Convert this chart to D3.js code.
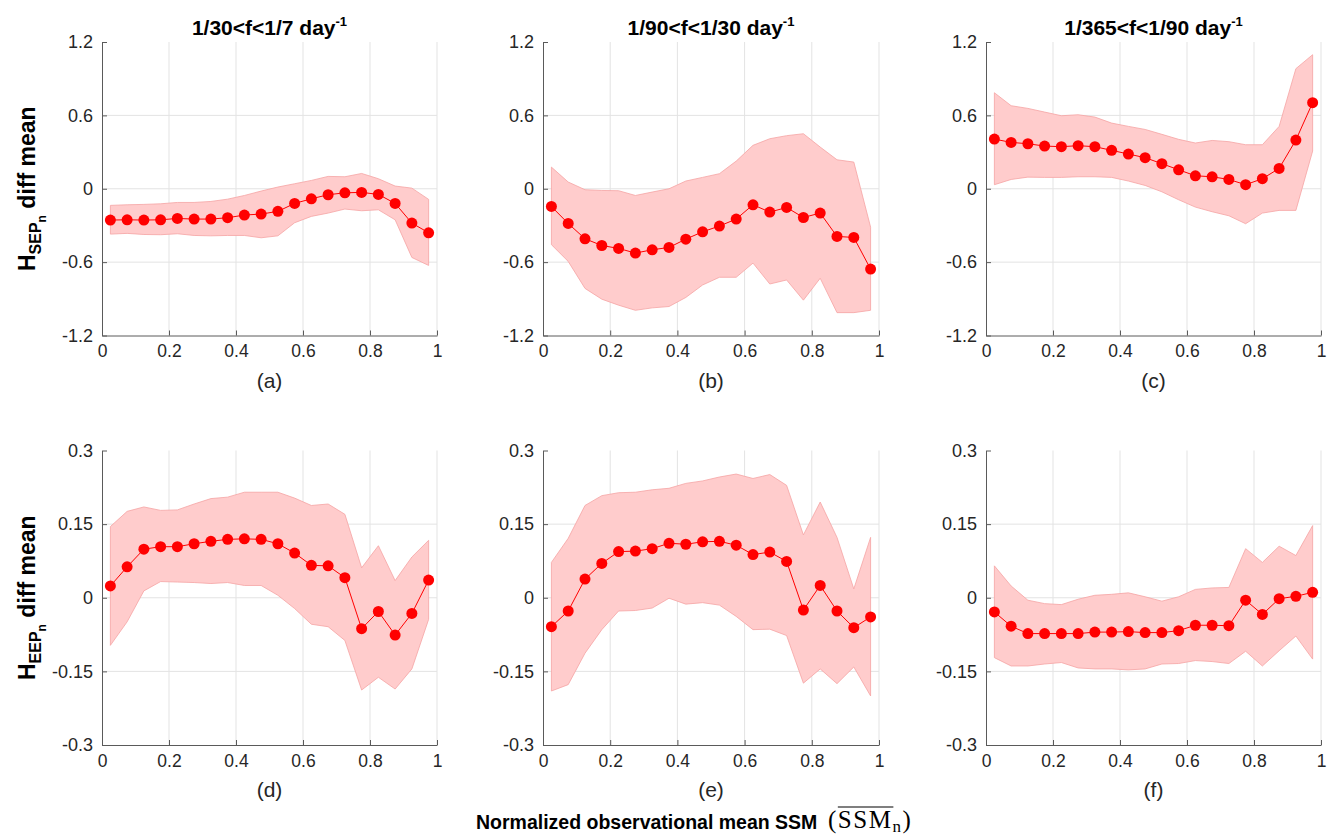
<!DOCTYPE html>
<html>
<head>
<meta charset="utf-8">
<script src="https://cdn.jsdelivr.net/npm/d3@7"></script>
<style>
  body { margin: 0; background: #fff; }
  text { font-family: Arial, "Liberation Sans", Helvetica, sans-serif; }
</style>
</head>
<body>
<div id="chart"></div>
<script>
var width = 1331, height = 838;

// bin centres of normalized SSM
var ssmBins = [0.025, 0.075, 0.125, 0.175, 0.225, 0.275, 0.325, 0.375, 0.425, 0.475,
               0.525, 0.575, 0.625, 0.675, 0.725, 0.775, 0.825, 0.875, 0.925, 0.975];

var titles = ["1/30<f<1/7 day", "1/90<f<1/30 day", "1/365<f<1/90 day"];
var panelLetters = ["(a)", "(b)", "(c)", "(d)", "(e)", "(f)"];
var xTicks = [0, 0.2, 0.4, 0.6, 0.8, 1];
var sepTicks = [-1.2, -0.6, 0, 0.6, 1.2];
var eepTicks = [-0.3, -0.15, 0, 0.15, 0.3];

// H_SEP diff mean (top row)
var sepMeanA = [-0.256, -0.254, -0.256, -0.254, -0.243, -0.248, -0.248, -0.237, -0.215, -0.207,
                -0.185, -0.12, -0.082, -0.049, -0.033, -0.03, -0.046, -0.12, -0.281, -0.36];
var sepUpA = [-0.136, -0.131, -0.128, -0.123, -0.112, -0.112, -0.104, -0.085, -0.055, -0.019,
              0.014, 0.041, 0.068, 0.101, 0.098, 0.125, 0.082, 0.022, 0.005, -0.087];
var sepLoA = [-0.371, -0.365, -0.374, -0.376, -0.368, -0.382, -0.385, -0.382, -0.382, -0.401,
              -0.385, -0.278, -0.226, -0.199, -0.166, -0.18, -0.172, -0.254, -0.562, -0.627];

var sepMeanB = [-0.145, -0.284, -0.409, -0.464, -0.488, -0.526, -0.499, -0.48, -0.412, -0.352,
                -0.305, -0.248, -0.131, -0.191, -0.153, -0.235, -0.199, -0.39, -0.398, -0.657];
var sepUpB = [0.177, 0.055, -0.008, -0.014, -0.016, -0.055, -0.027, 0, 0.063, 0.093,
              0.123, 0.226, 0.355, 0.409, 0.434, 0.45, 0.341, 0.237, 0.218, -0.314];
var sepLoB = [-0.457, -0.594, -0.815, -0.903, -0.952, -0.994, -0.974, -0.963, -0.889, -0.787,
              -0.724, -0.724, -0.608, -0.779, -0.746, -0.911, -0.732, -1.013, -1.013, -0.994];

var sepMeanC = [0.406, 0.379, 0.368, 0.349, 0.344, 0.352, 0.344, 0.314, 0.284, 0.254,
                0.205, 0.155, 0.106, 0.098, 0.076, 0.033, 0.082, 0.166, 0.398, 0.704];
var sepUpC = [0.785, 0.679, 0.657, 0.627, 0.597, 0.605, 0.586, 0.537, 0.51, 0.485,
              0.445, 0.404, 0.374, 0.395, 0.385, 0.36, 0.36, 0.51, 0.982, 1.096];
var sepLoC = [0.033, 0.076, 0.095, 0.093, 0.093, 0.098, 0.098, 0.093, 0.063, 0.027,
              -0.025, -0.09, -0.15, -0.188, -0.221, -0.286, -0.199, -0.177, -0.177, 0.308];

// H_EEP diff mean (bottom row)
var eepMeanD = [0.024, 0.063, 0.099, 0.104, 0.104, 0.11, 0.115, 0.119, 0.12, 0.119,
                0.11, 0.091, 0.066, 0.065, 0.041, -0.063, -0.028, -0.076, -0.032, 0.036];
var eepUpD = [0.145, 0.176, 0.185, 0.178, 0.179, 0.191, 0.202, 0.205, 0.215, 0.215,
              0.215, 0.203, 0.188, 0.191, 0.17, 0.061, 0.106, 0.035, 0.083, 0.117];
var eepLoD = [-0.097, -0.049, 0.014, 0.033, 0.032, 0.031, 0.029, 0.031, 0.025, 0.025,
              0.005, -0.022, -0.054, -0.059, -0.087, -0.188, -0.162, -0.186, -0.145, -0.044];

var eepMeanE = [-0.059, -0.027, 0.038, 0.07, 0.094, 0.095, 0.1, 0.111, 0.109, 0.114,
                0.115, 0.107, 0.088, 0.093, 0.074, -0.025, 0.025, -0.027, -0.061, -0.039];
var eepUpE = [0.072, 0.121, 0.188, 0.208, 0.214, 0.215, 0.22, 0.223, 0.233, 0.238,
              0.246, 0.252, 0.243, 0.251, 0.229, 0.128, 0.195, 0.123, 0.018, 0.123];
var eepLoE = [-0.19, -0.177, -0.113, -0.065, -0.027, -0.026, -0.021, -0.001, -0.013, -0.01,
              -0.015, -0.038, -0.065, -0.064, -0.077, -0.174, -0.145, -0.175, -0.141, -0.2];

var eepMeanF = [-0.029, -0.058, -0.073, -0.073, -0.073, -0.073, -0.07, -0.07, -0.069, -0.071,
                -0.071, -0.067, -0.056, -0.056, -0.057, -0.005, -0.034, -0.002, 0.003, 0.011];
var eepUpF = [0.065, 0.024, -0.005, -0.012, -0.014, -0.003, 0.005, 0.007, 0.01, 0.002,
              -0.007, 0.002, 0.017, 0.02, 0.021, 0.1, 0.072, 0.105, 0.086, 0.147];
var eepLoF = [-0.122, -0.139, -0.139, -0.135, -0.132, -0.143, -0.145, -0.145, -0.147, -0.145,
              -0.135, -0.134, -0.128, -0.13, -0.134, -0.109, -0.139, -0.108, -0.078, -0.125];

var colX = [[102, 437], [543, 879], [986, 1321]];
var rowY = [[42, 335.5], [450.5, 745]];

var panels = [
  {row: 0, col: 0, mean: sepMeanA, up: sepUpA, lo: sepLoA},
  {row: 0, col: 1, mean: sepMeanB, up: sepUpB, lo: sepLoB},
  {row: 0, col: 2, mean: sepMeanC, up: sepUpC, lo: sepLoC},
  {row: 1, col: 0, mean: eepMeanD, up: eepUpD, lo: eepLoD},
  {row: 1, col: 1, mean: eepMeanE, up: eepUpE, lo: eepLoE},
  {row: 1, col: 2, mean: eepMeanF, up: eepUpF, lo: eepLoF}
];

var svg = d3.select("#chart").append("svg")
  .attr("width", width)
  .attr("height", height);

var axisColor = "#5a5a5a", textColor = "#262626";

panels.forEach(function(p, i) {
  var ticks = p.row == 0 ? sepTicks : eepTicks;
  var x = d3.scaleLinear().domain([0, 1]).range(colX[p.col]);
  var y = d3.scaleLinear().domain([ticks[0], ticks[ticks.length - 1]]).range([rowY[p.row][1], rowY[p.row][0]]);
  var g = svg.append("g");

  // grid
  g.selectAll("line.vg").data(xTicks.slice(1)).enter().append("line")
    .attr("x1", d => x(d)).attr("x2", d => x(d))
    .attr("y1", y.range()[0]).attr("y2", y.range()[1])
    .attr("stroke", "#e3e3e3").attr("stroke-width", 1);
  g.selectAll("line.hg").data(ticks.slice(1, -1)).enter().append("line")
    .attr("x1", x(0)).attr("x2", x(1))
    .attr("y1", d => y(d)).attr("y2", d => y(d))
    .attr("stroke", "#e3e3e3").attr("stroke-width", 1);

  // spread band
  var area = d3.area()
    .x((d, k) => x(ssmBins[k]))
    .y0((d, k) => y(p.lo[k]))
    .y1((d, k) => y(p.up[k]));
  g.append("path").datum(p.mean)
    .attr("d", area)
    .attr("fill", "#ffcccc")
    .attr("stroke", "#f5a3a3")
    .attr("stroke-width", 0.8);

  // axes (ticks inward)
  var xAxis = d3.axisBottom(x).tickValues(xTicks).tickSizeInner(-5).tickSizeOuter(0)
    .tickFormat(d => d == 0 || d == 1 ? d3.format("d")(d) : d3.format(".1f")(d));
  var gx = g.append("g").attr("transform", "translate(0," + y.range()[0] + ")").call(xAxis);
  gx.select(".domain").attr("stroke", axisColor);
  gx.selectAll(".tick line").attr("stroke", axisColor);
  gx.selectAll(".tick text").attr("fill", textColor).style("font-size", "17.5px")
    .attr("y", 5).attr("dy", "0.95em");

  var yAxis = d3.axisLeft(y).tickValues(ticks).tickSizeInner(-5).tickSizeOuter(0)
    .tickFormat(d => d == 0 ? "0" : String(d));
  var gy = g.append("g").attr("transform", "translate(" + x.range()[0] + ",0)").call(yAxis);
  gy.select(".domain").attr("stroke", axisColor);
  gy.selectAll(".tick line").attr("stroke", axisColor);
  gy.selectAll(".tick text").attr("fill", textColor).style("font-size", "18px").attr("x", -9);

  // mean line + markers
  var line = d3.line().x((d, k) => x(ssmBins[k])).y(d => y(d));
  g.append("path").datum(p.mean)
    .attr("d", line).attr("fill", "none")
    .attr("stroke", "#ff0000").attr("stroke-width", 1);
  g.selectAll("circle").data(p.mean).enter().append("circle")
    .attr("cx", (d, k) => x(ssmBins[k])).attr("cy", d => y(d))
    .attr("r", 5.5).attr("fill", "#ff0000");

  // panel letter
  g.append("text")
    .attr("x", (x.range()[0] + x.range()[1]) / 2)
    .attr("y", y.range()[0] + 52)
    .attr("text-anchor", "middle")
    .attr("fill", textColor)
    .style("font-size", "21px")
    .text(panelLetters[i]);

  // column titles
  if (p.row == 0) {
    var t = g.append("text")
      .attr("x", (x.range()[0] + x.range()[1]) / 2)
      .attr("y", 35)
      .attr("text-anchor", "middle")
      .attr("fill", "#000")
      .style("font-size", "21px").style("font-weight", "bold");
    t.append("tspan").text(titles[p.col]);
    t.append("tspan").attr("dy", -9).style("font-size", "13px").text("-1");
  }
});

// y labels, centred on each row of axes
function yLabel(cx, cy, sub) {
  var t = svg.append("text")
    .attr("transform", "translate(" + cx + "," + cy + ") rotate(-90)")
    .attr("text-anchor", "middle")
    .attr("fill", "#000")
    .style("font-size", "23px").style("font-weight", "bold");
  t.append("tspan").text("H");
  t.append("tspan").attr("dy", 6).style("font-size", "16px").text(sub);
  t.append("tspan").attr("dy", 5).style("font-size", "12px").text("n");
  t.append("tspan").attr("dy", -11).text(" diff mean");
}
yLabel(35, (rowY[0][0] + rowY[0][1]) / 2, "SEP");
yLabel(35, (rowY[1][0] + rowY[1][1]) / 2, "EEP");

// x label
var xl = svg.append("g").attr("transform", "translate(476,0)");
xl.append("text")
  .attr("x", 0).attr("y", 829)
  .attr("fill", "#000")
  .style("font-size", "19.5px").style("font-weight", "bold")
  .text("Normalized observational mean SSM");
var xlTex = xl.append("text")
  .attr("x", 352).attr("y", 828)
  .attr("fill", "#000")
  .style("font-family", "'Liberation Serif', 'DejaVu Serif', serif")
  .style("font-size", "25px")
  .style("letter-spacing", "1.5px");
xlTex.append("tspan").text("(");
xlTex.append("tspan").text("SSM");
xlTex.append("tspan").attr("dy", 4).style("font-size", "17px").text("n");
xlTex.append("tspan").attr("dy", -4).text(")");
var node = xlTex.node();
var ovX1 = node.getStartPositionOfChar(1).x;
var ovX2 = node.getEndPositionOfChar(3).x;
xl.append("line")
  .attr("x1", ovX1).attr("x2", ovX2 + 1)
  .attr("y1", 807).attr("y2", 807)
  .attr("stroke", "#000").attr("stroke-width", 1.2);
</script>
</body>
</html>
